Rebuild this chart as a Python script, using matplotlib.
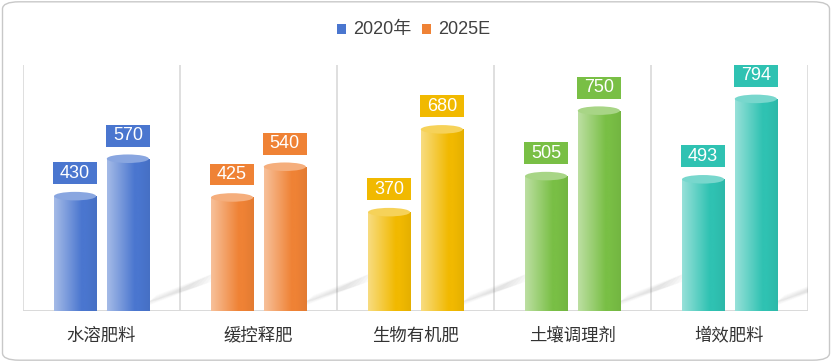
import numpy as np
import matplotlib.pyplot as plt
from matplotlib.patches import Ellipse, Rectangle, FancyBboxPatch, Polygon
from matplotlib.colors import to_rgb

plt.rcParams['font.family'] = ['Noto Sans CJK SC', 'DejaVu Sans']
num_font = ['Liberation Sans', 'Noto Sans CJK SC']

categories = ["水溶肥料", "缓控释肥", "生物有机肥", "土壤调理剂", "增效肥料"]
series = ["2020年", "2025E"]
v2020 = [430, 425, 370, 505, 493]
v2025 = [570, 540, 680, 750, 794]
colors = ["#4a76cf", "#ef8235", "#f1b900", "#79bf45", "#2fc2b2"]

fig = plt.figure(figsize=(8.32, 3.62), dpi=100)
border = FancyBboxPatch((0.003, 0.005), 0.994, 0.99, boxstyle="round,pad=0,rounding_size=0.02",
                        transform=fig.transFigure, fc="none", ec="#c8c8c8", lw=1.0, zorder=5)
fig.patches.append(border)
ax = fig.add_axes([0.0276, 0.1409, 0.9435, 0.6796])
ax.set_xlim(-0.5, 4.5)
ax.set_ylim(0, 921)
ax.axis("off")

w = 0.268
off = 0.168
cap = 32


def lighten(c, f):
    c = np.array(to_rgb(c))
    return tuple(c + (1 - c) * f)


def cylinder(x, h, color):
    c = np.array(to_rgb(color))
    t = np.linspace(0, 1, 64)
    mix = np.clip(0.5 * (1 - t / 0.65), 0, None)[:, None]
    row = c + (1 - c) * mix
    row = row * (1 - 0.05 * np.clip((t - 0.75) / 0.25, 0, 1))[:, None]
    img = np.tile(row[None, :, :], (2, 1, 1))
    im = ax.imshow(img, extent=(x - w / 2, x + w / 2, 0, h), aspect="auto", zorder=3, interpolation="bilinear")
    clip = Rectangle((x - w / 2, 0), w, h, transform=ax.transData)
    im.set_clip_path(clip)
    ax.add_patch(Ellipse((x, 0), w, cap * 0.6, fc=row[32], ec="none", zorder=2.9))
    ax.add_patch(Ellipse((x, h), w, cap, fc=lighten(color, 0.35), ec="none", zorder=3.1))


def shadow(x0):
    for k in range(6):
        s = 0.05 + k * 0.03
        pts = [(x0 - 0.05, 10 + k * 4), (x0 + 0.45 - s, 110 - k * 6), (x0 + 0.5 - s, 150 - k * 8),
               (x0 + 0.05, 60 - k * 4)]
        ax.add_patch(Polygon(pts, closed=True, fc="#808080", ec="none", alpha=0.035, zorder=1))


bw, bh = 0.28, 82
for i in range(len(categories)):
    shadow(i + off + w / 2)
    for x, v in [(i - off, v2020[i]), (i + off, v2025[i])]:
        cylinder(x, v, colors[i])
        ax.add_patch(Rectangle((x - bw / 2, v + 45), bw, bh, fc=colors[i], ec="none", zorder=4))
        ax.text(x, v + 45 + bh / 2, str(v), ha="center", va="center", color="white", fontsize=13,
                family=num_font, zorder=5)
    ax.text(i, -92, categories[i], ha="center", va="center", fontsize=12.5, color="#333333")

for b in np.arange(-0.5, 5.0, 1.0):
    ax.plot([b, b], [0, 921], color="#d9d9d9", lw=1.2, zorder=0.5)
ax.plot([-0.5, 4.5], [0, 0], color="#d9d9d9", lw=1.4, zorder=0.5)

# legend
fig.patches.append(Rectangle((0.405, 0.905), 0.0108, 0.0276, transform=fig.transFigure, fc=colors[0], ec="none"))
fig.text(0.4243, 0.919, series[0], ha="left", va="center", fontsize=13, color="#404040", family=num_font)
fig.patches.append(Rectangle((0.5072, 0.905), 0.0108, 0.0276, transform=fig.transFigure, fc=colors[1], ec="none"))
fig.text(0.5264, 0.919, series[1], ha="left", va="center", fontsize=13, color="#404040", family=num_font)

fig.savefig("out.png", dpi=100)
